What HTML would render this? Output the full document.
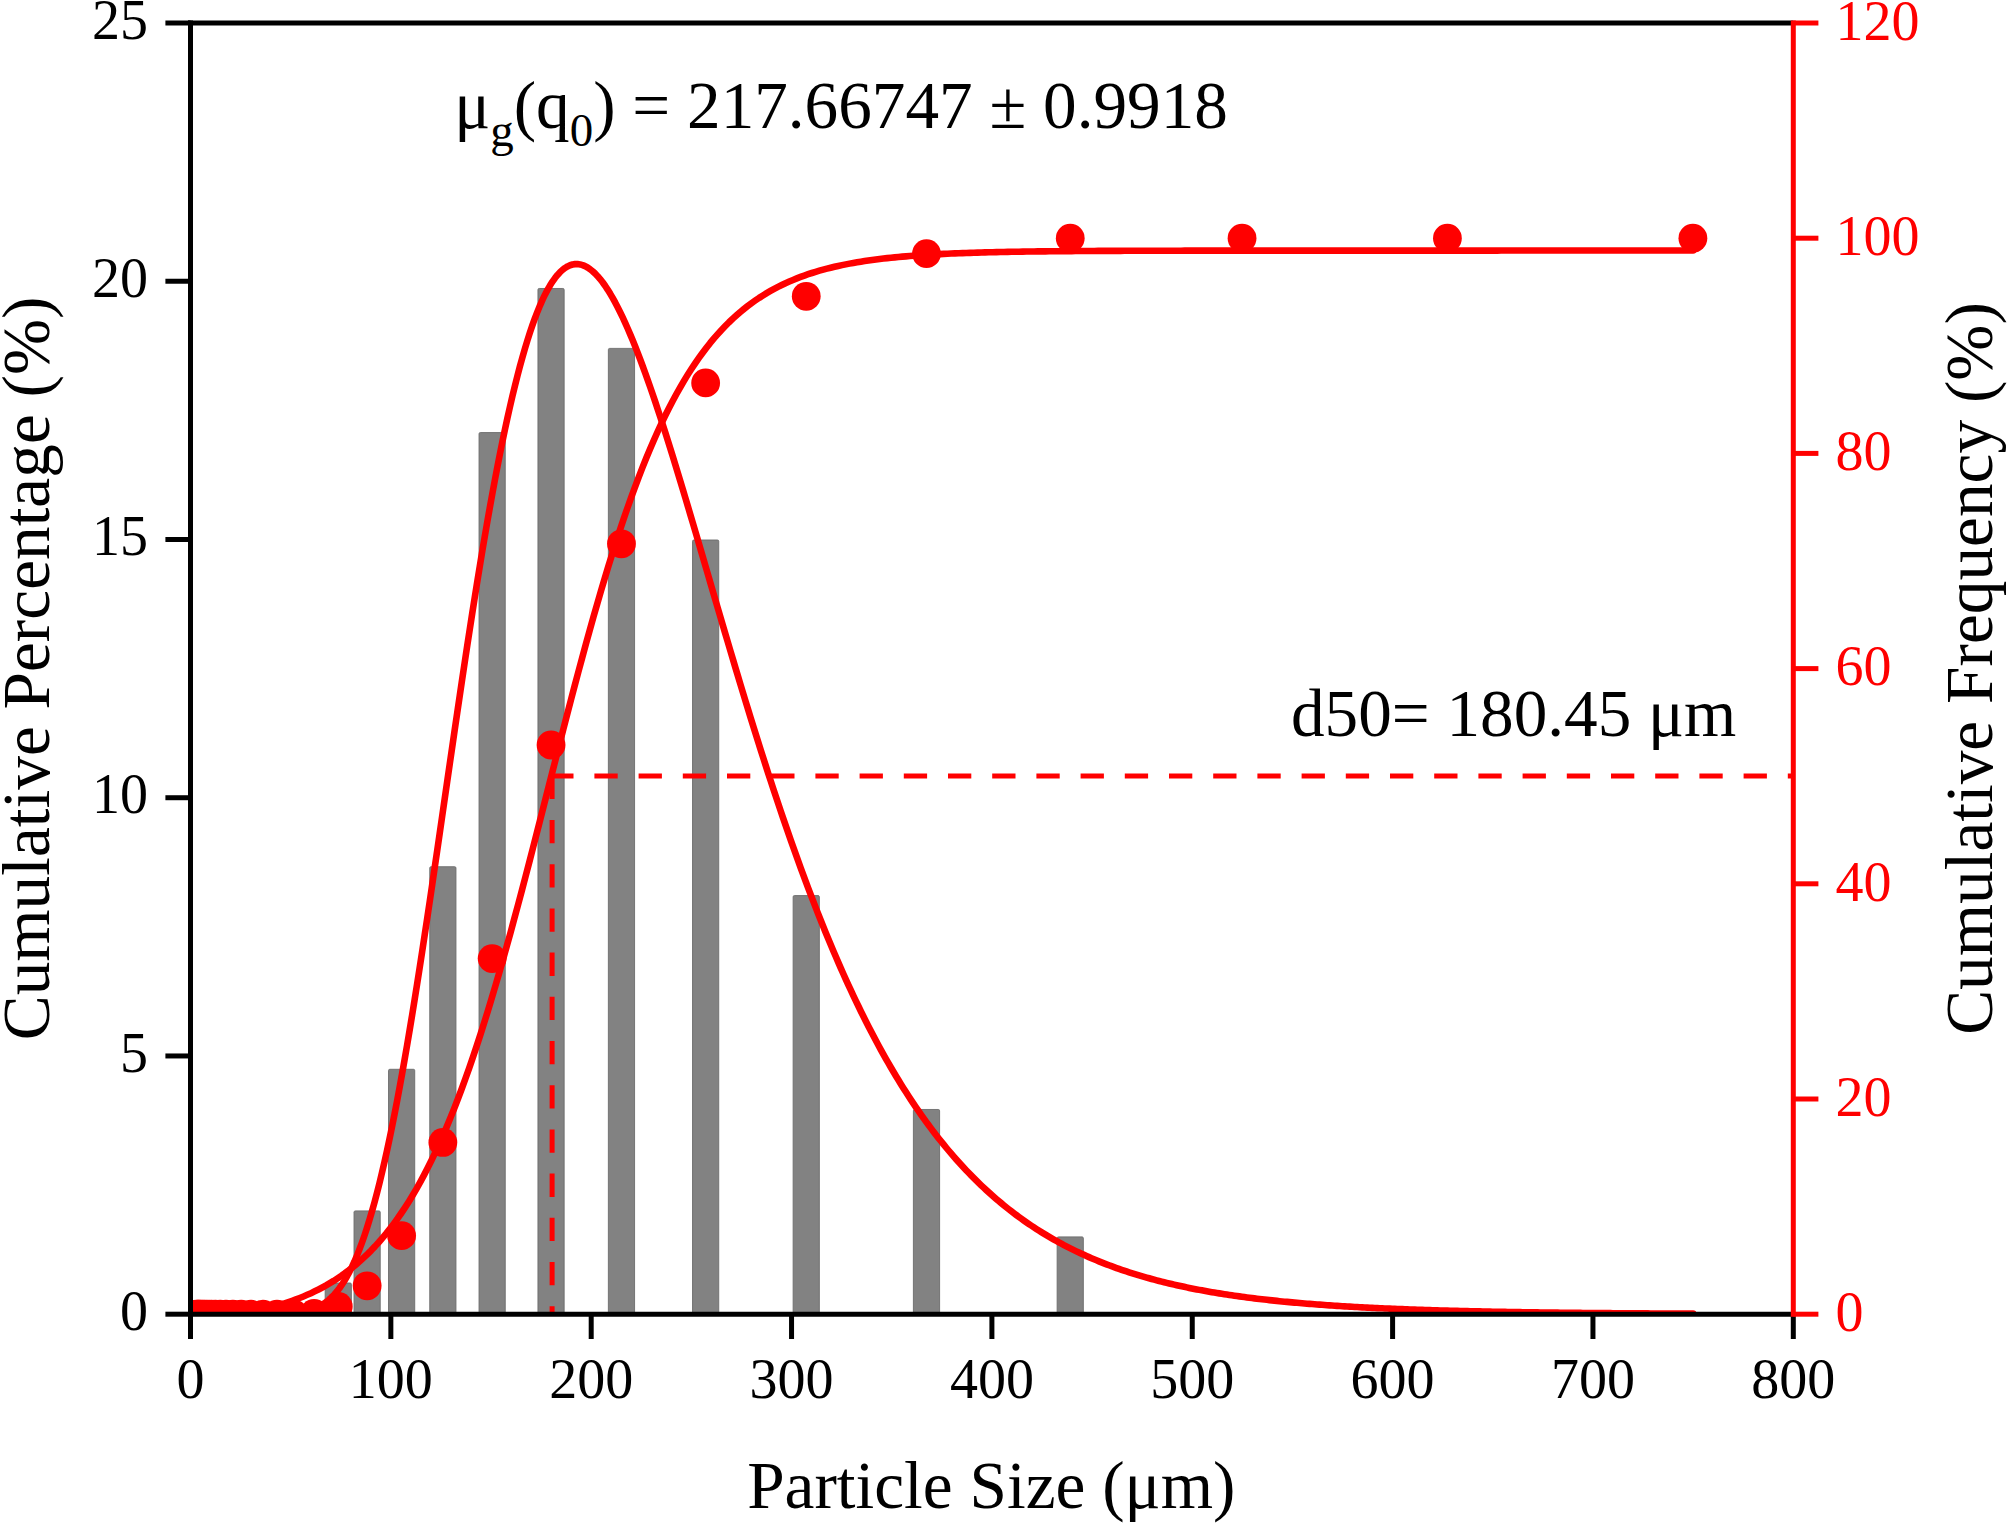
<!DOCTYPE html>
<html lang="en"><head><meta charset="utf-8"><title>Particle size distribution</title>
<style>
html,body{margin:0;padding:0;background:#fff;}
body{width:2008px;height:1524px;overflow:hidden;}
svg{display:block;}
text{font-family:"Liberation Serif",serif;}
.tk{font-size:56.0px;}
.tt{font-size:67.3px;}
.an{font-size:67.2px;}
.r{fill:#ff0000;}
</style></head><body>
<svg width="2008" height="1524" viewBox="0 0 2008 1524">
<rect width="2008" height="1524" fill="#ffffff"/>
<defs><clipPath id="plot"><rect x="190.5" y="23.0" width="1602.8" height="1292.2"/></clipPath></defs>
<g clip-path="url(#plot)">
<rect x="325.17" y="1283.00" width="26.2" height="33.20" rx="1.3" fill="#828282" stroke="#6c6c6c" stroke-width="0.9"/>
<rect x="354.03" y="1210.90" width="26.2" height="105.30" rx="1.3" fill="#828282" stroke="#6c6c6c" stroke-width="0.9"/>
<rect x="388.52" y="1069.29" width="26.2" height="246.91" rx="1.3" fill="#828282" stroke="#6c6c6c" stroke-width="0.9"/>
<rect x="429.76" y="866.72" width="26.2" height="449.48" rx="1.3" fill="#828282" stroke="#6c6c6c" stroke-width="0.9"/>
<rect x="479.04" y="432.57" width="26.2" height="883.63" rx="1.3" fill="#828282" stroke="#6c6c6c" stroke-width="0.9"/>
<rect x="537.95" y="288.47" width="26.2" height="1027.73" rx="1.3" fill="#828282" stroke="#6c6c6c" stroke-width="0.9"/>
<rect x="608.37" y="348.38" width="26.2" height="967.82" rx="1.3" fill="#828282" stroke="#6c6c6c" stroke-width="0.9"/>
<rect x="692.54" y="540.00" width="26.2" height="776.20" rx="1.3" fill="#828282" stroke="#6c6c6c" stroke-width="0.9"/>
<rect x="793.14" y="895.59" width="26.2" height="420.61" rx="1.3" fill="#828282" stroke="#6c6c6c" stroke-width="0.9"/>
<rect x="913.40" y="1109.47" width="26.2" height="206.73" rx="1.3" fill="#828282" stroke="#6c6c6c" stroke-width="0.9"/>
<rect x="1057.14" y="1236.88" width="26.2" height="79.32" rx="1.3" fill="#828282" stroke="#6c6c6c" stroke-width="0.9"/>
<path d="M550.2,776.1 L1793.3,776.1" stroke="#ff0000" stroke-width="5.0" stroke-dasharray="23.3 20.9" fill="none"/>
<path d="M552.1,775.8 L552.1,1314.2" stroke="#ff0000" stroke-width="5.0" stroke-dasharray="23.3 20.9" fill="none"/>
<polyline points="191.50,1314.20 194.01,1314.20 196.52,1314.20 199.02,1314.20 201.53,1314.20 204.04,1314.20 206.54,1314.20 209.05,1314.20 211.56,1314.20 214.06,1314.20 216.57,1314.20 219.08,1314.20 221.58,1314.20 224.09,1314.20 226.60,1314.20 229.11,1314.20 231.61,1314.20 234.12,1314.20 236.63,1314.20 239.13,1314.20 241.64,1314.20 244.15,1314.20 246.65,1314.20 249.16,1314.20 251.67,1314.20 254.17,1314.20 256.68,1314.20 259.19,1314.19 261.69,1314.19 264.20,1314.19 266.71,1314.18 269.22,1314.17 271.72,1314.15 274.23,1314.12 276.74,1314.09 279.24,1314.04 281.75,1313.98 284.26,1313.90 286.76,1313.80 289.27,1313.66 291.78,1313.49 294.28,1313.28 296.79,1313.01 299.30,1312.69 301.80,1312.29 304.31,1311.81 306.82,1311.23 309.33,1310.55 311.83,1309.75 314.34,1308.81 316.85,1307.72 319.35,1306.46 321.86,1305.02 324.37,1303.38 326.87,1301.51 329.38,1299.41 331.89,1297.05 334.39,1294.42 336.90,1291.50 339.41,1288.27 341.91,1284.71 344.42,1280.80 346.93,1276.54 349.44,1271.90 351.94,1266.88 354.45,1261.45 356.96,1255.60 359.46,1249.33 361.97,1242.62 364.48,1235.47 366.98,1227.87 369.49,1219.81 372.00,1211.29 374.50,1202.31 377.01,1192.86 379.52,1182.95 382.02,1172.58 384.53,1161.76 387.04,1150.48 389.55,1138.76 392.05,1126.60 394.56,1114.02 397.07,1101.03 399.57,1087.63 402.08,1073.85 404.59,1059.70 407.09,1045.19 409.60,1030.35 412.11,1015.19 414.61,999.73 417.12,983.99 419.63,967.99 422.14,951.76 424.64,935.31 427.15,918.68 429.66,901.87 432.16,884.92 434.67,867.85 437.18,850.69 439.68,833.44 442.19,816.15 444.70,798.84 447.20,781.52 449.71,764.22 452.22,746.97 454.72,729.78 457.23,712.68 459.74,695.69 462.25,678.83 464.75,662.13 467.26,645.60 469.77,629.26 472.27,613.13 474.78,597.23 477.29,581.58 479.79,566.19 482.30,551.08 484.81,536.27 487.31,521.77 489.82,507.58 492.33,493.74 494.83,480.24 497.34,467.09 499.85,454.32 502.36,441.93 504.86,429.92 507.37,418.31 509.88,407.10 512.38,396.30 514.89,385.91 517.40,375.95 519.90,366.40 522.41,357.29 524.92,348.60 527.42,340.35 529.93,332.53 532.44,325.14 534.94,318.19 537.45,311.67 539.96,305.58 542.47,299.93 544.97,294.70 547.48,289.90 549.99,285.53 552.49,281.57 555.00,278.04 557.51,274.91 560.01,272.19 562.52,269.88 565.03,267.96 567.53,266.43 570.04,265.28 572.55,264.52 575.05,264.13 577.56,264.10 580.07,264.43 582.58,265.12 585.08,266.14 587.59,267.50 590.10,269.20 592.60,271.21 595.11,273.53 597.62,276.16 600.12,279.09 602.63,282.30 605.14,285.79 607.64,289.56 610.15,293.59 612.66,297.88 615.17,302.41 617.67,307.18 620.18,312.18 622.69,317.41 625.19,322.84 627.70,328.49 630.21,334.33 632.71,340.36 635.22,346.58 637.73,352.97 640.23,359.52 642.74,366.24 645.25,373.10 647.75,380.11 650.26,387.26 652.77,394.53 655.28,401.93 657.78,409.44 660.29,417.07 662.80,424.79 665.30,432.61 667.81,440.52 670.32,448.51 672.82,456.57 675.33,464.71 677.84,472.91 680.34,481.17 682.85,489.49 685.36,497.85 687.86,506.25 690.37,514.69 692.88,523.16 695.39,531.66 697.89,540.19 700.40,548.73 702.91,557.28 705.41,565.85 707.92,574.41 710.43,582.98 712.93,591.55 715.44,600.11 717.95,608.66 720.45,617.19 722.96,625.71 725.47,634.21 727.97,642.68 730.48,651.13 732.99,659.55 735.50,667.93 738.00,676.28 740.51,684.59 743.02,692.86 745.52,701.09 748.03,709.27 750.54,717.41 753.04,725.50 755.55,733.53 758.06,741.52 760.56,749.44 763.07,757.32 765.58,765.13 768.08,772.89 770.59,780.58 773.10,788.22 775.61,795.79 778.11,803.29 780.62,810.74 783.13,818.11 785.63,825.42 788.14,832.66 790.65,839.83 793.15,846.93 795.66,853.96 798.17,860.92 800.67,867.80 803.18,874.62 805.69,881.37 808.20,888.04 810.70,894.64 813.21,901.16 815.72,907.61 818.22,913.99 820.73,920.29 823.24,926.53 825.74,932.68 828.25,938.77 830.76,944.77 833.26,950.71 835.77,956.57 838.28,962.36 840.78,968.08 843.29,973.72 845.80,979.29 848.31,984.78 850.81,990.21 853.32,995.56 855.83,1000.84 858.33,1006.05 860.84,1011.19 863.35,1016.26 865.85,1021.25 868.36,1026.18 870.87,1031.04 873.37,1035.83 875.88,1040.56 878.39,1045.21 880.89,1049.80 883.40,1054.32 885.91,1058.78 888.42,1063.17 890.92,1067.49 893.43,1071.75 895.94,1075.95 898.44,1080.08 900.95,1084.15 903.46,1088.16 905.96,1092.11 908.47,1096.00 910.98,1099.83 913.48,1103.60 915.99,1107.31 918.50,1110.96 921.00,1114.55 923.51,1118.09 926.02,1121.57 928.53,1125.00 931.03,1128.37 933.54,1131.69 936.05,1134.95 938.55,1138.16 941.06,1141.32 943.57,1144.43 946.07,1147.48 948.58,1150.49 951.09,1153.45 953.59,1156.36 956.10,1159.22 958.61,1162.03 961.12,1164.79 963.62,1167.51 966.13,1170.18 968.64,1172.81 971.14,1175.40 973.65,1177.93 976.16,1180.43 978.66,1182.89 981.17,1185.30 983.68,1187.67 986.18,1190.00 988.69,1192.29 991.20,1194.54 993.70,1196.75 996.21,1198.92 998.72,1201.06 1001.23,1203.15 1003.73,1205.21 1006.24,1207.24 1008.75,1209.23 1011.25,1211.18 1013.76,1213.10 1016.27,1214.99 1018.77,1216.84 1021.28,1218.66 1023.79,1220.45 1026.29,1222.20 1028.80,1223.92 1031.31,1225.62 1033.81,1227.28 1036.32,1228.91 1038.83,1230.52 1041.34,1232.09 1043.84,1233.64 1046.35,1235.15 1048.86,1236.65 1051.36,1238.11 1053.87,1239.55 1056.38,1240.96 1058.88,1242.34 1061.39,1243.70 1063.90,1245.04 1066.40,1246.35 1068.91,1247.63 1071.42,1248.90 1073.92,1250.14 1076.43,1251.35 1078.94,1252.55 1081.45,1253.72 1083.95,1254.87 1086.46,1256.00 1088.97,1257.11 1091.47,1258.20 1093.98,1259.26 1096.49,1260.31 1098.99,1261.34 1101.50,1262.35 1104.01,1263.34 1106.51,1264.31 1109.02,1265.26 1111.53,1266.20 1114.03,1267.12 1116.54,1268.02 1119.05,1268.90 1121.56,1269.77 1124.06,1270.62 1126.57,1271.46 1129.08,1272.28 1131.58,1273.08 1134.09,1273.87 1136.60,1274.64 1139.10,1275.40 1141.61,1276.15 1144.12,1276.88 1146.62,1277.60 1149.13,1278.30 1151.64,1278.99 1154.15,1279.67 1156.65,1280.33 1159.16,1280.98 1161.67,1281.62 1164.17,1282.25 1166.68,1282.86 1169.19,1283.47 1171.69,1284.06 1174.20,1284.64 1176.71,1285.21 1179.21,1285.77 1181.72,1286.32 1184.23,1286.85 1186.73,1287.38 1189.24,1287.90 1191.75,1288.41 1194.26,1288.90 1196.76,1289.39 1199.27,1289.87 1201.78,1290.34 1204.28,1290.80 1206.79,1291.25 1209.30,1291.69 1211.80,1292.13 1214.31,1292.55 1216.82,1292.97 1219.32,1293.38 1221.83,1293.78 1224.34,1294.18 1226.84,1294.56 1229.35,1294.94 1231.86,1295.31 1234.37,1295.68 1236.87,1296.04 1239.38,1296.39 1241.89,1296.73 1244.39,1297.07 1246.90,1297.40 1249.41,1297.72 1251.91,1298.04 1254.42,1298.35 1256.93,1298.66 1259.43,1298.96 1261.94,1299.25 1264.45,1299.54 1266.95,1299.82 1269.46,1300.10 1271.97,1300.37 1274.48,1300.64 1276.98,1300.90 1279.49,1301.16 1282.00,1301.41 1284.50,1301.66 1287.01,1301.90 1289.52,1302.14 1292.02,1302.37 1294.53,1302.60 1297.04,1302.82 1299.54,1303.04 1302.05,1303.26 1304.56,1303.47 1307.06,1303.67 1309.57,1303.88 1312.08,1304.08 1314.59,1304.27 1317.09,1304.46 1319.60,1304.65 1322.11,1304.83 1324.61,1305.01 1327.12,1305.19 1329.63,1305.36 1332.13,1305.53 1334.64,1305.70 1337.15,1305.86 1339.65,1306.02 1342.16,1306.18 1344.67,1306.34 1347.18,1306.49 1349.68,1306.63 1352.19,1306.78 1354.70,1306.92 1357.20,1307.06 1359.71,1307.20 1362.22,1307.33 1364.72,1307.47 1367.23,1307.59 1369.74,1307.72 1372.24,1307.85 1374.75,1307.97 1377.26,1308.09 1379.76,1308.20 1382.27,1308.32 1384.78,1308.43 1387.29,1308.54 1389.79,1308.65 1392.30,1308.76 1394.81,1308.86 1397.31,1308.96 1399.82,1309.06 1402.33,1309.16 1404.83,1309.26 1407.34,1309.35 1409.85,1309.45 1412.35,1309.54 1414.86,1309.63 1417.37,1309.71 1419.87,1309.80 1422.38,1309.88 1424.89,1309.96 1427.40,1310.05 1429.90,1310.12 1432.41,1310.20 1434.92,1310.28 1437.42,1310.35 1439.93,1310.43 1442.44,1310.50 1444.94,1310.57 1447.45,1310.64 1449.96,1310.71 1452.46,1310.77 1454.97,1310.84 1457.48,1310.90 1459.98,1310.96 1462.49,1311.03 1465.00,1311.09 1467.51,1311.14 1470.01,1311.20 1472.52,1311.26 1475.03,1311.32 1477.53,1311.37 1480.04,1311.42 1482.55,1311.48 1485.05,1311.53 1487.56,1311.58 1490.07,1311.63 1492.57,1311.68 1495.08,1311.72 1497.59,1311.77 1500.09,1311.82 1502.60,1311.86 1505.11,1311.91 1507.62,1311.95 1510.12,1311.99 1512.63,1312.03 1515.14,1312.07 1517.64,1312.11 1520.15,1312.15 1522.66,1312.19 1525.16,1312.23 1527.67,1312.27 1530.18,1312.30 1532.68,1312.34 1535.19,1312.37 1537.70,1312.41 1540.21,1312.44 1542.71,1312.48 1545.22,1312.51 1547.73,1312.54 1550.23,1312.57 1552.74,1312.60 1555.25,1312.63 1557.75,1312.66 1560.26,1312.69 1562.77,1312.72 1565.27,1312.75 1567.78,1312.77 1570.29,1312.80 1572.79,1312.83 1575.30,1312.85 1577.81,1312.88 1580.32,1312.90 1582.82,1312.93 1585.33,1312.95 1587.84,1312.97 1590.34,1313.00 1592.85,1313.02 1595.36,1313.04 1597.86,1313.06 1600.37,1313.08 1602.88,1313.10 1605.38,1313.12 1607.89,1313.14 1610.40,1313.16 1612.90,1313.18 1615.41,1313.20 1617.92,1313.22 1620.43,1313.24 1622.93,1313.26 1625.44,1313.27 1627.95,1313.29 1630.45,1313.31 1632.96,1313.32 1635.47,1313.34 1637.97,1313.36 1640.48,1313.37 1642.99,1313.39 1645.49,1313.40 1648.00,1313.42 1650.51,1313.43 1653.01,1313.45 1655.52,1313.46 1658.03,1313.47 1660.54,1313.49 1663.04,1313.50 1665.55,1313.51 1668.06,1313.53 1670.56,1313.54 1673.07,1313.55 1675.58,1313.56 1678.08,1313.57 1680.59,1313.59 1683.10,1313.60 1685.60,1313.61 1688.11,1313.62 1690.62,1313.63 1693.12,1313.64" fill="none" stroke="#ff0000" stroke-width="6.6" stroke-linejoin="round" stroke-linecap="round"/>
<polyline points="190.50,1320.02 194.27,1319.70 198.03,1319.36 201.80,1318.99 205.56,1318.61 209.33,1318.21 213.10,1317.79 216.86,1317.34 220.63,1316.86 224.39,1316.36 228.16,1315.84 231.93,1315.28 235.69,1314.69 239.46,1314.07 243.22,1313.41 246.99,1312.72 250.76,1312.00 254.52,1311.23 258.29,1310.41 262.05,1309.56 265.82,1308.66 269.59,1307.70 273.35,1306.70 277.12,1305.64 280.88,1304.53 284.65,1303.35 288.42,1302.11 292.18,1300.80 295.95,1299.42 299.71,1297.97 303.48,1296.44 307.25,1294.83 311.01,1293.14 314.78,1291.35 318.54,1289.47 322.31,1287.49 326.08,1285.41 329.84,1283.21 333.61,1280.91 337.37,1278.48 341.14,1275.93 344.91,1273.25 348.67,1270.44 352.44,1267.48 356.20,1264.37 359.97,1261.11 363.73,1257.68 367.50,1254.09 371.27,1250.32 375.03,1246.37 378.80,1242.23 382.56,1237.90 386.33,1233.36 390.10,1228.60 393.86,1223.63 397.63,1218.44 401.39,1213.00 405.16,1207.33 408.93,1201.41 412.69,1195.24 416.46,1188.80 420.22,1182.09 423.99,1175.11 427.76,1167.84 431.52,1160.29 435.29,1152.44 439.05,1144.30 442.82,1135.85 446.59,1127.10 450.35,1118.04 454.12,1108.67 457.88,1098.99 461.65,1088.99 465.42,1078.68 469.18,1068.07 472.95,1057.14 476.71,1045.91 480.48,1034.38 484.25,1022.55 488.01,1010.44 491.78,998.05 495.54,985.39 499.31,972.47 503.08,959.31 506.84,945.91 510.61,932.30 514.37,918.49 518.14,904.49 521.91,890.32 525.67,876.00 529.44,861.56 533.20,847.00 536.97,832.36 540.74,817.65 544.50,802.90 548.27,788.12 552.03,773.35 555.80,758.60 559.57,743.89 563.33,729.25 567.10,714.69 570.86,700.25 574.63,685.93 578.40,671.77 582.16,657.77 585.93,643.95 589.69,630.34 593.46,616.95 597.23,603.79 600.99,590.87 604.76,578.22 608.52,565.83 612.29,553.72 616.06,541.89 619.82,530.37 623.59,519.14 627.35,508.21 631.12,497.60 634.89,487.29 638.65,477.30 642.42,467.62 646.18,458.25 649.95,449.19 653.72,440.44 657.48,432.00 661.25,423.86 665.01,416.01 668.78,408.46 672.55,401.20 676.31,394.22 680.08,387.51 683.84,381.08 687.61,374.90 691.38,368.98 695.14,363.31 698.91,357.88 702.67,352.69 706.44,347.72 710.20,342.97 713.97,338.43 717.74,334.10 721.50,329.96 725.27,326.01 729.03,322.24 732.80,318.65 736.57,315.23 740.33,311.97 744.10,308.86 747.86,305.90 751.63,303.09 755.40,300.41 759.16,297.86 762.93,295.44 766.69,293.13 770.46,290.94 774.23,288.86 777.99,286.88 781.76,285.00 785.52,283.21 789.29,281.52 793.06,279.91 796.82,278.38 800.59,276.93 804.35,275.55 808.12,274.24 811.89,273.00 815.65,271.83 819.42,270.71 823.18,269.65 826.95,268.65 830.72,267.70 834.48,266.80 838.25,265.94 842.01,265.13 845.78,264.36 849.55,263.63 853.31,262.94 857.08,262.29 860.84,261.67 864.61,261.08 868.38,260.52 872.14,260.00 875.91,259.50 879.67,259.02 883.44,258.57 887.21,258.15 890.97,257.75 894.74,257.36 898.50,257.00 902.27,256.66 906.04,256.34 909.80,256.03 913.57,255.74 917.33,255.47 921.10,255.20 924.87,254.96 928.63,254.72 932.40,254.50 936.16,254.29 939.93,254.10 943.70,253.91 947.46,253.73 951.23,253.56 954.99,253.40 958.76,253.25 962.53,253.11 966.29,252.97 970.06,252.85 973.82,252.72 977.59,252.61 981.36,252.50 985.12,252.40 988.89,252.30 992.65,252.21 996.42,252.12 1000.19,252.04 1003.95,251.96 1007.72,251.89 1011.48,251.82 1015.25,251.75 1019.02,251.69 1022.78,251.63 1026.55,251.57 1030.31,251.52 1034.08,251.47 1037.84,251.42 1041.61,251.37 1045.38,251.33 1049.14,251.29 1052.91,251.25 1056.67,251.22 1060.44,251.18 1064.21,251.15 1067.97,251.12 1071.74,251.09 1075.50,251.06 1079.27,251.04 1083.04,251.01 1086.80,250.99 1090.57,250.97 1094.33,250.94 1098.10,250.92 1101.87,250.91 1105.63,250.89 1109.40,250.87 1113.16,250.86 1116.93,250.84 1120.70,250.83 1124.46,250.81 1128.23,250.80 1131.99,250.79 1135.76,250.78 1139.53,250.77 1143.29,250.76 1147.06,250.75 1150.82,250.74 1154.59,250.73 1158.36,250.72 1162.12,250.71 1165.89,250.70 1169.65,250.70 1173.42,250.69 1177.19,250.68 1180.95,250.68 1184.72,250.67 1188.48,250.67 1192.25,250.66 1196.02,250.66 1199.78,250.65 1203.55,250.65 1207.31,250.65 1211.08,250.64 1214.85,250.64 1218.61,250.63 1222.38,250.63 1226.14,250.63 1229.91,250.63 1233.68,250.62 1237.44,250.62 1241.21,250.62 1244.97,250.62 1248.74,250.61 1252.51,250.61 1256.27,250.61 1260.04,250.61 1263.80,250.61 1267.57,250.60 1271.34,250.60 1275.10,250.60 1278.87,250.60 1282.63,250.60 1286.40,250.60 1290.17,250.60 1293.93,250.59 1297.70,250.59 1301.46,250.59 1305.23,250.59 1309.00,250.59 1312.76,250.59 1316.53,250.59 1320.29,250.59 1324.06,250.59 1327.83,250.59 1331.59,250.59 1335.36,250.58 1339.12,250.58 1342.89,250.58 1346.66,250.58 1350.42,250.58 1354.19,250.58 1357.95,250.58 1361.72,250.58 1365.48,250.58 1369.25,250.58 1373.02,250.58 1376.78,250.58 1380.55,250.58 1384.31,250.58 1388.08,250.58 1391.85,250.58 1395.61,250.58 1399.38,250.58 1403.14,250.58 1406.91,250.58 1410.68,250.58 1414.44,250.58 1418.21,250.58 1421.97,250.58 1425.74,250.58 1429.51,250.58 1433.27,250.58 1437.04,250.58 1440.80,250.58 1444.57,250.58 1448.34,250.58 1452.10,250.58 1455.87,250.58 1459.63,250.58 1463.40,250.58 1467.17,250.58 1470.93,250.58 1474.70,250.58 1478.46,250.58 1482.23,250.58 1486.00,250.58 1489.76,250.58 1493.53,250.58 1497.29,250.58 1501.06,250.57 1504.83,250.57 1508.59,250.57 1512.36,250.57 1516.12,250.57 1519.89,250.57 1523.66,250.57 1527.42,250.57 1531.19,250.57 1534.95,250.57 1538.72,250.57 1542.49,250.57 1546.25,250.57 1550.02,250.57 1553.78,250.57 1557.55,250.57 1561.32,250.57 1565.08,250.57 1568.85,250.57 1572.61,250.57 1576.38,250.57 1580.15,250.57 1583.91,250.57 1587.68,250.57 1591.44,250.57 1595.21,250.57 1598.98,250.57 1602.74,250.57 1606.51,250.57 1610.27,250.57 1614.04,250.57 1617.81,250.57 1621.57,250.57 1625.34,250.57 1629.10,250.57 1632.87,250.57 1636.64,250.57 1640.40,250.57 1644.17,250.57 1647.93,250.57 1651.70,250.57 1655.47,250.57 1659.23,250.57 1663.00,250.57 1666.76,250.57 1670.53,250.57 1674.30,250.57 1678.06,250.57 1681.83,250.57 1685.59,250.57 1689.36,250.57 1693.12,250.57" fill="none" stroke="#ff0000" stroke-width="6.6" stroke-linejoin="round" stroke-linecap="round"/>
<circle cx="196.46" cy="1314.20" r="14.4" fill="#ff0000"/>
<circle cx="197.62" cy="1314.20" r="14.4" fill="#ff0000"/>
<circle cx="199.01" cy="1314.20" r="14.4" fill="#ff0000"/>
<circle cx="200.67" cy="1314.20" r="14.4" fill="#ff0000"/>
<circle cx="202.66" cy="1314.20" r="14.4" fill="#ff0000"/>
<circle cx="205.03" cy="1314.20" r="14.4" fill="#ff0000"/>
<circle cx="207.87" cy="1314.20" r="14.4" fill="#ff0000"/>
<circle cx="211.27" cy="1314.20" r="14.4" fill="#ff0000"/>
<circle cx="215.32" cy="1314.20" r="14.4" fill="#ff0000"/>
<circle cx="220.17" cy="1314.20" r="14.4" fill="#ff0000"/>
<circle cx="225.96" cy="1314.20" r="14.4" fill="#ff0000"/>
<circle cx="232.89" cy="1314.20" r="14.4" fill="#ff0000"/>
<circle cx="241.17" cy="1314.20" r="14.4" fill="#ff0000"/>
<circle cx="251.06" cy="1314.20" r="14.4" fill="#ff0000"/>
<circle cx="262.89" cy="1314.20" r="14.4" fill="#ff0000"/>
<circle cx="277.03" cy="1314.20" r="14.4" fill="#ff0000"/>
<circle cx="293.93" cy="1314.20" r="14.4" fill="#ff0000"/>
<circle cx="314.13" cy="1313.34" r="14.4" fill="#ff0000"/>
<circle cx="338.27" cy="1306.45" r="14.4" fill="#ff0000"/>
<circle cx="367.13" cy="1285.79" r="14.4" fill="#ff0000"/>
<circle cx="401.62" cy="1235.65" r="14.4" fill="#ff0000"/>
<circle cx="442.86" cy="1142.47" r="14.4" fill="#ff0000"/>
<circle cx="492.14" cy="958.58" r="14.4" fill="#ff0000"/>
<circle cx="551.05" cy="745.00" r="14.4" fill="#ff0000"/>
<circle cx="621.47" cy="543.78" r="14.4" fill="#ff0000"/>
<circle cx="705.64" cy="382.92" r="14.4" fill="#ff0000"/>
<circle cx="806.24" cy="296.30" r="14.4" fill="#ff0000"/>
<circle cx="926.50" cy="253.59" r="14.4" fill="#ff0000"/>
<circle cx="1070.24" cy="238.20" r="14.4" fill="#ff0000"/>
<circle cx="1242.05" cy="238.20" r="14.4" fill="#ff0000"/>
<circle cx="1447.42" cy="238.20" r="14.4" fill="#ff0000"/>
<circle cx="1692.89" cy="238.20" r="14.4" fill="#ff0000"/>
</g>
<g stroke="#000" stroke-width="5.0" fill="none" stroke-linecap="butt">
<line x1="190.5" y1="20.5" x2="190.5" y2="1316.7"/>
<line x1="188.0" y1="1314.2" x2="1793.3" y2="1314.2"/>
<line x1="188.0" y1="23.0" x2="1793.3" y2="23.0"/>
<line x1="165.4" y1="1314.20" x2="190.5" y2="1314.20"/>
<line x1="165.4" y1="1055.96" x2="190.5" y2="1055.96"/>
<line x1="165.4" y1="797.72" x2="190.5" y2="797.72"/>
<line x1="165.4" y1="539.48" x2="190.5" y2="539.48"/>
<line x1="165.4" y1="281.24" x2="190.5" y2="281.24"/>
<line x1="165.4" y1="23.00" x2="190.5" y2="23.00"/>
<line x1="190.50" y1="1314.2" x2="190.50" y2="1339.0"/>
<line x1="390.85" y1="1314.2" x2="390.85" y2="1339.0"/>
<line x1="591.20" y1="1314.2" x2="591.20" y2="1339.0"/>
<line x1="791.55" y1="1314.2" x2="791.55" y2="1339.0"/>
<line x1="991.90" y1="1314.2" x2="991.90" y2="1339.0"/>
<line x1="1192.25" y1="1314.2" x2="1192.25" y2="1339.0"/>
<line x1="1392.60" y1="1314.2" x2="1392.60" y2="1339.0"/>
<line x1="1592.95" y1="1314.2" x2="1592.95" y2="1339.0"/>
<line x1="1793.30" y1="1314.2" x2="1793.30" y2="1339.0"/>
</g>
<g stroke="#ff0000" stroke-width="5.0" fill="none">
<line x1="1793.3" y1="20.5" x2="1793.3" y2="1316.7"/>
<line x1="1793.3" y1="1314.20" x2="1818.3999999999999" y2="1314.20"/>
<line x1="1793.3" y1="1099.00" x2="1818.3999999999999" y2="1099.00"/>
<line x1="1793.3" y1="883.80" x2="1818.3999999999999" y2="883.80"/>
<line x1="1793.3" y1="668.60" x2="1818.3999999999999" y2="668.60"/>
<line x1="1793.3" y1="453.40" x2="1818.3999999999999" y2="453.40"/>
<line x1="1793.3" y1="238.20" x2="1818.3999999999999" y2="238.20"/>
<line x1="1793.3" y1="23.00" x2="1818.3999999999999" y2="23.00"/>
</g>
<g class="tk" fill="#000">
<text x="148.0" y="1329.90" text-anchor="end">0</text>
<text x="148.0" y="1071.66" text-anchor="end">5</text>
<text x="148.0" y="813.42" text-anchor="end">10</text>
<text x="148.0" y="555.18" text-anchor="end">15</text>
<text x="148.0" y="296.94" text-anchor="end">20</text>
<text x="148.0" y="38.70" text-anchor="end">25</text>
<text x="190.50" y="1398.3" text-anchor="middle">0</text>
<text x="390.85" y="1398.3" text-anchor="middle">100</text>
<text x="591.20" y="1398.3" text-anchor="middle">200</text>
<text x="791.55" y="1398.3" text-anchor="middle">300</text>
<text x="991.90" y="1398.3" text-anchor="middle">400</text>
<text x="1192.25" y="1398.3" text-anchor="middle">500</text>
<text x="1392.60" y="1398.3" text-anchor="middle">600</text>
<text x="1592.95" y="1398.3" text-anchor="middle">700</text>
<text x="1793.30" y="1398.3" text-anchor="middle">800</text>
</g><g class="tk r">
<text x="1835.5" y="1331.00">0</text>
<text x="1835.5" y="1115.80">20</text>
<text x="1835.5" y="900.60">40</text>
<text x="1835.5" y="685.40">60</text>
<text x="1835.5" y="470.20">80</text>
<text x="1835.5" y="255.00">100</text>
<text x="1835.5" y="39.80">120</text>
</g>
<text class="tt" x="991.3" y="1507.5" text-anchor="middle">Particle Size (μm)</text>
<text class="tt" transform="translate(49.3,668.4) rotate(-90)" text-anchor="middle">Cumulative Percentage (%)</text>
<text class="tt" transform="translate(1992,668.5) rotate(-90)" text-anchor="middle">Cumulative Frequency (%)</text>
<text class="an" x="454.2" y="127.8">μ<tspan font-size="47" dy="18.6">g</tspan><tspan dy="-18.6">(q</tspan><tspan font-size="47" dy="18.6">0</tspan><tspan dy="-18.6">) = 217.66747 ± 0.9918</tspan></text>
<text class="an" x="1291" y="736">d50= 180.45 μm</text>
</svg></body></html>
